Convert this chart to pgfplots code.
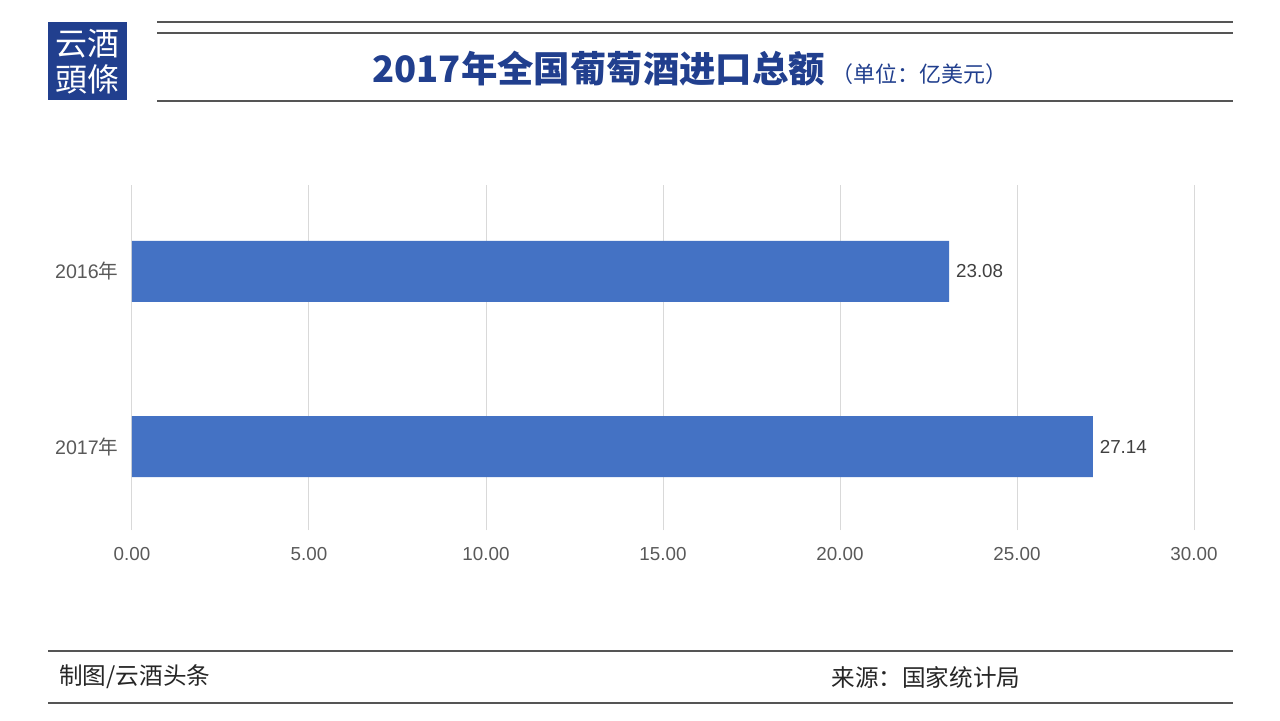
\documentclass[border=0pt]{standalone}
\usepackage{fontspec}
\setmainfont{Liberation Sans}
\newfontfamily\cjk{Noto Sans CJK SC}
\newfontfamily\cjktc{Noto Sans CJK TC}
\usepackage{pgfplots}
\pgfplotsset{compat=1.18}
\definecolor{barblue}{HTML}{4472C4}
\definecolor{titleblue}{HTML}{213F8E}
\definecolor{rulegray}{HTML}{555555}
\definecolor{gridgray}{HTML}{D9D9D9}
\definecolor{ticktext}{HTML}{595959}
\definecolor{labeltext}{HTML}{404040}
\begin{document}
\begin{tikzpicture}
\fill[white] (0,0) rectangle (640pt,360pt);
% decorations in pixel coordinates (1px = 0.5pt, y downward)
\begin{scope}[x=0.5pt,y=-0.5pt,yshift=360pt]
  \fill[titleblue] (48,22) rectangle (127,100);
  \node[text=white,font=\cjktc\fontsize{16}{16}\selectfont,inner sep=0] at (87.5,44) {云酒};
  \node[text=white,font=\cjktc\fontsize{16}{16}\selectfont,inner sep=0] at (87.5,79) {頭條};
  \draw[rulegray,line width=1.1pt] (157,22) -- (1233,22);
  \draw[rulegray,line width=1.1pt] (157,33) -- (1233,33);
  \draw[rulegray,line width=0.7pt] (157,101) -- (1233,101);
  \draw[rulegray,line width=0.7pt] (48,651) -- (1233,651);
  \draw[rulegray,line width=0.7pt] (48,703) -- (1233,703);
  \node[anchor=base west,inner sep=0,text=titleblue] at (372,82)
    {\cjk\bfseries\fontsize{18.2}{19}\selectfont 2017年全国葡萄酒进口总额\,\mdseries\fontsize{11}{12}\selectfont（单位：亿美元）};
  \node[anchor=west,inner sep=0,text=black!85,font=\cjk\fontsize{11.8}{12}\selectfont] at (59,677) {制图/云酒头条};
  \node[anchor=west,inner sep=0,text=black!85,font=\cjk\fontsize{11.8}{12}\selectfont] at (831,677) {来源：国家统计局};
\end{scope}
\begin{axis}[
  at={(66pt,95pt)}, anchor=south west,
  scale only axis, width=531pt, height=172.5pt,
  xbar, bar width=30.5pt,
  xmin=0, xmax=30,
  ymin=-0.477, ymax=1.494,
  xtick={0,5,10,15,20,25,30},
  ytick={0,1},
  yticklabels={2017{\cjk 年},2016{\cjk 年}},
  xmajorgrids, grid style={gridgray,line width=0.5pt},
  axis line style={draw=none},
  major tick style={draw=none},
  /pgf/number format/assume math mode=true,
  xticklabel={\pgfmathprintnumber[fixed,fixed zerofill,precision=2]{\tick}},
  xticklabel style={font=\fontsize{9.4}{10}\selectfont,text=ticktext,yshift=-5pt},
  yticklabel style={font=\fontsize{9.8}{10}\selectfont,text=ticktext,xshift=1pt},
  nodes near coords,
  nodes near coords style={font=\fontsize{9.4}{10}\selectfont,text=labeltext,
    /pgf/number format/.cd,fixed,fixed zerofill,precision=2,assume math mode=true},
]
\addplot[fill=barblue,draw=none] coordinates {(27.14,0) (23.08,1)};
\end{axis}
\end{tikzpicture}
\end{document}
